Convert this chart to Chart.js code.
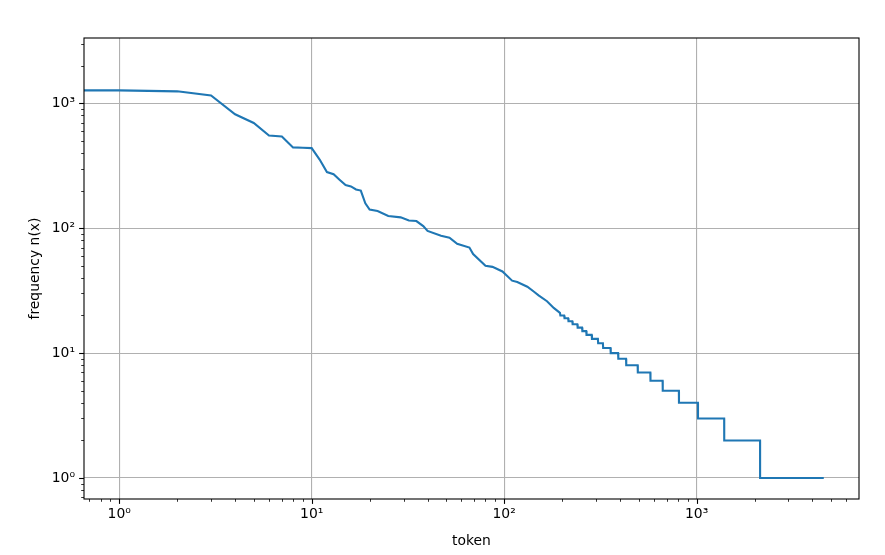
<!DOCTYPE html>
<html>
<head>
<meta charset="utf-8">
<script src="https://cdn.jsdelivr.net/npm/chart.js@4.4.0/dist/chart.umd.min.js"></script>
<style>
  html, body { margin: 0; padding: 0; background: #fff; }
</style>
</head>
<body>
<canvas id="zipf" width="885" height="555"></canvas>
<script>
// token frequencies (rank 0 is 'the', hidden on a log x axis)
const headRanks = [0, 1, 2, 3, 4, 5, 6, 7, 8, 9, 10, 11, 12, 13, 14, 15, 16, 17, 18, 19,
                   20, 22, 25, 29, 32, 35, 38, 40, 47, 52, 57, 66, 69, 80, 87, 98, 110,
                   117, 132, 143, 151, 167, 181, 195];
const headFreqs = [2261, 1267, 1245, 1155, 816, 695, 552, 541, 443, 440, 437, 354, 281, 270,
                   243, 221, 216, 204, 200, 158, 141, 137, 125, 122, 115, 114, 104, 95, 87,
                   84, 75, 70, 62, 50, 49, 45, 38, 37, 34, 31, 29, 26, 23, 21];

// the tail is a staircase: each integer count and the last rank that has it
const stepFreqs = [20, 19, 18, 17, 16, 15, 14, 13, 12, 11, 10, 9, 8, 7, 6, 5, 4, 3, 2, 1];
const stepEnds  = [205, 215, 226, 240, 254, 267, 285, 307, 326, 357, 391, 430, 494, 575,
                   666, 809, 1016, 1391, 2137, 4580];

const xTickPowers = [0, 1, 2, 3];
const yTickPowers = [0, 1, 2, 3];
const sup = ['\u2070', '\u00b9', '\u00b2', '\u00b3'];

// axis limits the way matplotlib pads a log axis (5% of the decades each side)
function logLimits(lo, hi) {
  const a = Math.log10(lo), b = Math.log10(hi), m = (b - a) * 0.05;
  return [Math.pow(10, a - m), Math.pow(10, b + m)];
}
const allFreqs = headFreqs.concat(stepFreqs);
const [xMin, xMax] = logLimits(1, stepEnds[stepEnds.length - 1]);
const [yMin, yMax] = logLimits(Math.min(...allFreqs), Math.max(...allFreqs));

// build the polyline
const points = [];
headRanks.forEach(function(r, i) {
  if (r === 0) {
    // matplotlib draws the rank-0 point at -inf, so the line just runs flat in from the edge
    points.push({x: xMin, y: headFreqs[1]});
  } else {
    points.push({x: r, y: headFreqs[i]});
  }
});
let prevEnd = headRanks[headRanks.length - 1];
stepFreqs.forEach(function(f, i) {
  points.push({x: prevEnd + 1, y: f});
  points.push({x: stepEnds[i], y: f});
  prevEnd = stepEnds[i];
});

function logTicks(min, max) {
  const out = [];
  for (let e = Math.floor(Math.log10(min)); e <= Math.ceil(Math.log10(max)); e++) {
    for (let m = 1; m <= 9; m++) {
      const v = m * Math.pow(10, e);
      if (v >= min && v <= max) out.push({value: v});
    }
  }
  return out;
}
function isMajor(v, powers) {
  const l = Math.log10(v);
  return Math.abs(l - Math.round(l)) < 1e-9 && powers.indexOf(Math.round(l)) >= 0;
}
function label(v, powers) {
  if (!isMajor(v, powers)) return '';
  return '10' + sup[Math.round(Math.log10(v))];
}

const font = {family: 'DejaVu Sans', size: 13.9};

// spines and outward tick marks like matplotlib
const frame = {
  id: 'frame',
  afterDraw(chart) {
    const ctx = chart.ctx, a = chart.chartArea;
    const sx = chart.scales.x, sy = chart.scales.y;
    ctx.save();
    ctx.strokeStyle = '#000';
    sx.ticks.forEach(function(t) {
      const major = isMajor(t.value, xTickPowers);
      const px = Math.round(sx.getPixelForValue(t.value)) + 0.5;
      ctx.lineWidth = major ? 1.1 : 0.8;
      ctx.beginPath();
      ctx.moveTo(px, a.bottom);
      ctx.lineTo(px, a.bottom + (major ? 4.9 : 2.8));
      ctx.stroke();
    });
    sy.ticks.forEach(function(t) {
      const major = isMajor(t.value, yTickPowers);
      const py = Math.round(sy.getPixelForValue(t.value)) + 0.5;
      ctx.lineWidth = major ? 1.1 : 0.8;
      ctx.beginPath();
      ctx.moveTo(a.left, py);
      ctx.lineTo(a.left - (major ? 4.9 : 2.8), py);
      ctx.stroke();
    });
    ctx.lineWidth = 1.1;
    ctx.strokeRect(a.left, a.top, a.right - a.left, a.bottom - a.top);
    ctx.restore();
  }
};

new Chart(document.getElementById('zipf'), {
  type: 'scatter',
  data: {
    datasets: [{
      data: points,
      showLine: true,
      borderColor: '#1f77b4',
      borderWidth: 2.1,
      pointRadius: 0,
      fill: false,
      tension: 0
    }]
  },
  options: {
    responsive: false,
    devicePixelRatio: 1,
    animation: false,
    layout: {padding: {top: 38, right: 26, left: 0, bottom: 0}},
    plugins: {legend: {display: false}, tooltip: {enabled: false}},
    scales: {
      x: {
        type: 'logarithmic',
        min: xMin,
        max: xMax,
        afterBuildTicks: function(s) { s.ticks = logTicks(s.min, s.max); },
        afterFit: function(s) { s.height = 56; },
        border: {display: false},
        grid: {
          drawTicks: false,
          lineWidth: 1.1,
          color: function(c) { return c.tick && isMajor(c.tick.value, xTickPowers) ? '#b0b0b0' : 'rgba(0,0,0,0)'; }
        },
        ticks: {
          autoSkip: false, maxRotation: 0, padding: 7, color: '#000', font: font,
          callback: function(v) { return label(v, xTickPowers); }
        },
        title: {display: true, text: 'token', color: '#000', font: font, padding: {top: 0, bottom: 5}}
      },
      y: {
        type: 'logarithmic',
        min: yMin,
        max: yMax,
        afterBuildTicks: function(s) { s.ticks = logTicks(s.min, s.max); },
        afterFit: function(s) { s.width = 84; },
        border: {display: false},
        grid: {
          drawTicks: false,
          lineWidth: 1.1,
          color: function(c) { return c.tick && isMajor(c.tick.value, yTickPowers) ? '#b0b0b0' : 'rgba(0,0,0,0)'; }
        },
        ticks: {
          autoSkip: false, padding: 9, color: '#000', font: font,
          callback: function(v) { return label(v, yTickPowers); }
        },
        title: {display: true, text: 'frequency n(x)', color: '#000', font: font, padding: {top: 27, bottom: 0}}
      }
    }
  },
  plugins: [frame]
});
</script>
</body>
</html>
